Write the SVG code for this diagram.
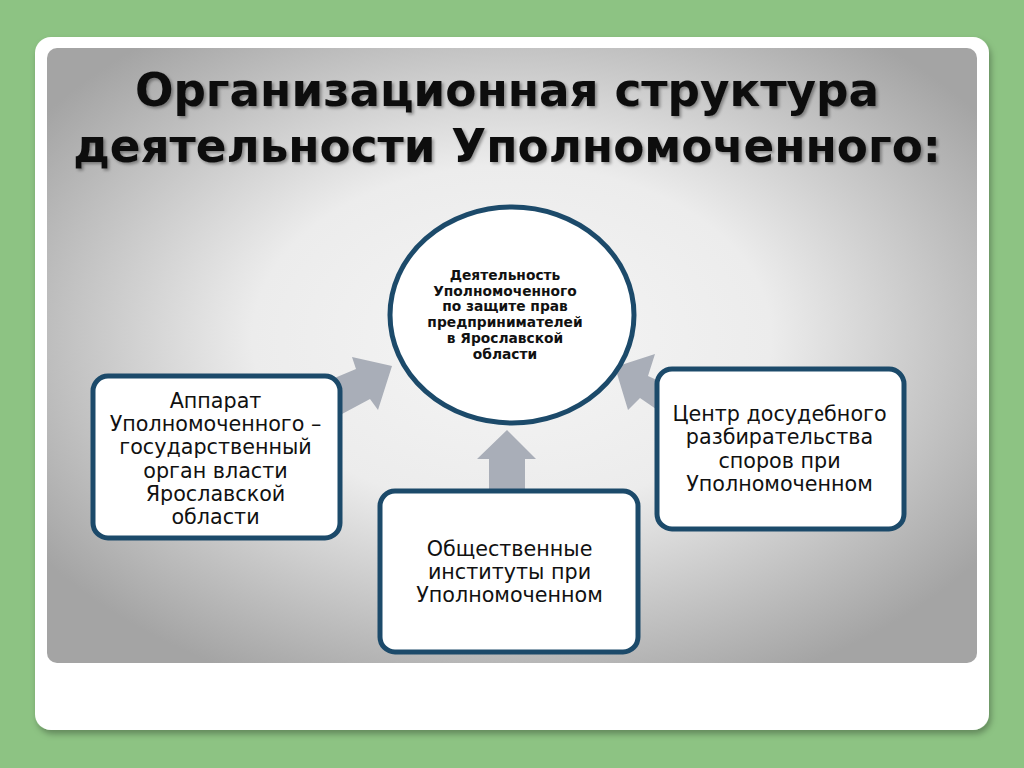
<svg xmlns="http://www.w3.org/2000/svg" width="1024" height="768" viewBox="0 0 1024 768">
<defs>
<radialGradient id="panel" cx="0.5" cy="0.47" r="0.62">
<stop offset="0" stop-color="#f5f5f5"/>
<stop offset="0.45" stop-color="#ececec"/>
<stop offset="1" stop-color="#a4a4a4"/>
</radialGradient>
<filter id="sh" x="-5%" y="-5%" width="110%" height="115%">
<feDropShadow dx="2" dy="4" stdDeviation="3" flood-color="#000" flood-opacity="0.3"/>
</filter>
<filter id="tsh" x="-5%" y="-20%" width="110%" height="140%">
<feDropShadow dx="2" dy="2" stdDeviation="1.5" flood-color="#000" flood-opacity="0.35"/>
</filter>
</defs>
<style>
.node{fill:#fff;stroke:#1c4a6a;stroke-width:5}
.arrow{fill:#a9aeb8}
.lbl{font-family:"DejaVu Sans",sans-serif;font-size:20.7px;fill:#111;text-anchor:middle}
.clbl{font-family:"DejaVu Sans",sans-serif;font-size:13.8px;font-weight:bold;fill:#111;text-anchor:middle}
.title{font-family:"DejaVu Sans",sans-serif;font-size:45.3px;font-weight:bold;fill:#111;text-anchor:middle}
</style>
<rect width="1024" height="768" fill="#8dc383"/>
<rect x="35" y="37" width="954" height="693" rx="16" fill="#fff" filter="url(#sh)"/>
<rect x="47" y="48" width="930" height="615" rx="10" fill="url(#panel)"/>
<g filter="url(#tsh)">
<text class="title" x="507" y="106">Организационная структура</text>
<text class="title" x="507" y="162">деятельности Уполномоченного:</text>
</g>
<g id="connectors">
<polygon class="arrow" points="325,382 356,369 352,357 392,366 378,410 370,399 342,414"/>
<polygon class="arrow" points="690,395 648,376 655,354 615,367 628,410 640,398 672,420"/>
<polygon class="arrow" points="489,492 489,459 477,459 507,430 536,459 525,459 525,492"/>
</g>
<g id="center">
<ellipse class="node" cx="512" cy="315" rx="122" ry="108"/>
<text class="clbl"><tspan x="505" y="280">Деятельность</tspan><tspan x="505" y="295.7">Уполномоченного</tspan><tspan x="505" y="311.4">по защите прав</tspan><tspan x="505" y="327.1">предпринимателей</tspan><tspan x="505" y="342.8">в Ярославской</tspan><tspan x="505" y="358.5">области</tspan></text>
</g>
<g id="left">
<rect class="node" x="93" y="376" width="247" height="162" rx="15"/>
<text class="lbl"><tspan x="215.5" y="408">Аппарат</tspan><tspan x="215.5" y="431.2">Уполномоченного –</tspan><tspan x="215.5" y="454.4">государственный</tspan><tspan x="215.5" y="477.6">орган власти</tspan><tspan x="215.5" y="500.8">Ярославской</tspan><tspan x="215.5" y="524">области</tspan></text>
</g>
<g id="bottom">
<rect class="node" x="380" y="491" width="258" height="161" rx="15"/>
<text class="lbl"><tspan x="509.5" y="555.5">Общественные</tspan><tspan x="509.5" y="578.7">институты при</tspan><tspan x="509.5" y="601.9">Уполномоченном</tspan></text>
</g>
<g id="right">
<rect class="node" x="657" y="369" width="247" height="160" rx="15"/>
<text class="lbl"><tspan x="779.5" y="421">Центр досудебного</tspan><tspan x="779.5" y="444.3">разбирательства</tspan><tspan x="779.5" y="467.6">споров при</tspan><tspan x="779.5" y="490.9">Уполномоченном</tspan></text>
</g>
</svg>
